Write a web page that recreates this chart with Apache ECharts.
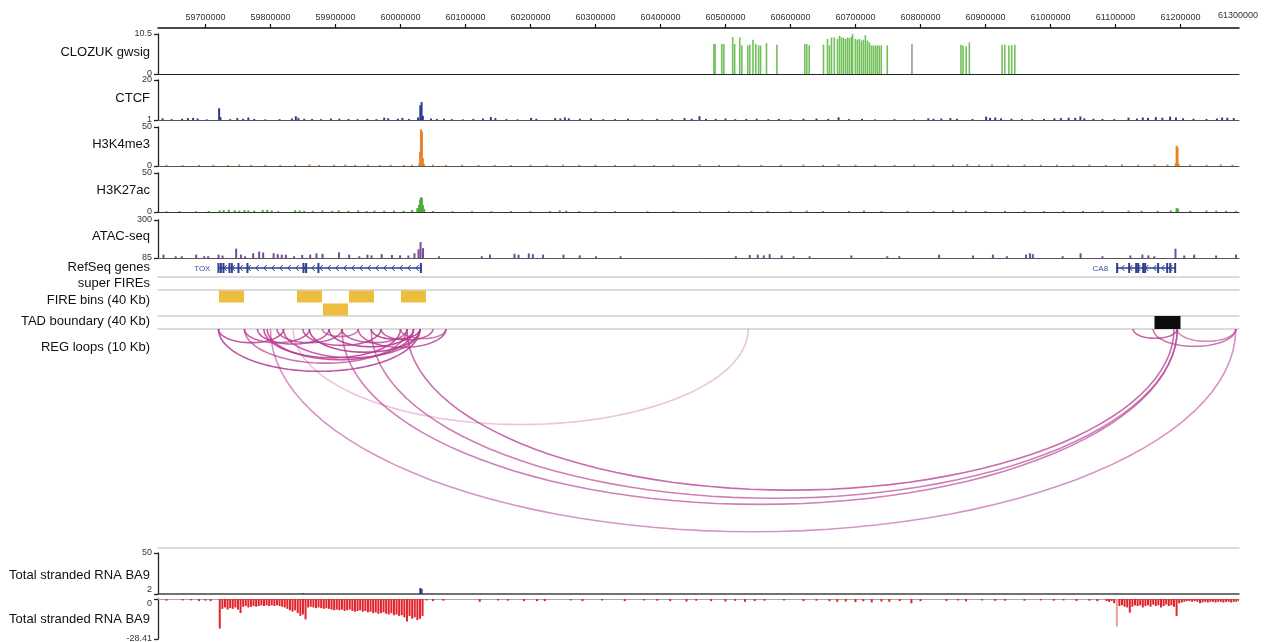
<!DOCTYPE html>
<html><head><meta charset="utf-8">
<script src="https://cdn.jsdelivr.net/npm/echarts@6/dist/echarts.min.js"></script>
<style>html,body{margin:0;padding:0;background:#fff}#c{width:1265px;height:642px}</style>
</head><body><div id="c"></div>
<script>
// ---------------- DATA ----------------
const X_MIN = 59627000, X_MAX = 61290000;
const topTicks = [59700000,59800000,59900000,60000000,60100000,60200000,60300000,60400000,60500000,60600000,60700000,60800000,60900000,61000000,61100000,61200000];
const lastTickLabel = '61300000';
const trackNames = ['CLOZUK gwsig','CTCF','H3K4me3','H3K27ac','ATAC-seq','RefSeq genes','super FIREs','FIRE bins (40 Kb)','TAD boundary (40 Kb)','REG loops (10 Kb)','Total stranded RNA BA9','Total stranded RNA BA9'];

const gwsig = [[60482200,7.9],[60484000,7.9],[60494400,7.9],[60497500,7.9],[60511100,9.7],[60514100,7.9],[60522000,9.6],[60525100,7.5],[60534300,7.5],[60537400,7.7],[60542300,9.0],[60546600,7.9],[60550900,7.5],[60554000,7.5],[60563100,8.1],[60579100,7.7],[60622000,7.9],[60625100,7.9],[60628800,7.5],[60650800,7.7],[60656900,9.2],[60660000,7.5],[60663100,9.6],[60667400,9.6],[60672300,9.2],[60675400,10.0],[60678500,9.6],[60681500,9.5],[60684600,9.2],[60687700,9.6],[60690600,9.4],[60693700,9.8],[60695500,10.5],[60699800,9.2],[60702900,9.0],[60706000,9.2],[60709100,8.8],[60712200,9.0],[60715200,10.2],[60718300,8.8],[60721400,8.3],[60724500,7.5],[60727500,7.5],[60730600,7.5],[60733500,7.5],[60736600,7.5],[60739700,7.5],[60748900,7.5],[60862300,7.7],[60865400,7.5],[60870300,7.3],[60875200,8.3],[60925500,7.7],[60929800,7.7],[60936000,7.5],[60940300,7.6],[60945100,7.7]];
const gwsigGray = [[60786900,7.9]];

const ctcf = [[59634000,1.8],[59648000,1.4],[59664000,1.6],[59673000,1.9],[59681000,2.0],[59688000,1.7],[59702000,1.3],[59721000,6.6],[59723000,2.4],[59738000,1.4],[59749000,1.9],[59758000,1.6],[59766000,2.2],[59775000,1.5],[59792000,1.3],[59814000,1.4],[59833000,1.7],[59839000,2.8],[59843000,2.0],[59852000,1.6],[59864000,1.5],[59878000,1.4],[59893000,1.7],[59906000,1.6],[59920000,1.5],[59934000,1.4],[59949000,1.6],[59963000,1.4],[59975000,2.1],[59981000,1.8],[59996000,1.6],[60003000,2.0],[60013000,1.5],[60027000,2.2],[60030500,8.0],[60032500,9.5],[60034500,3.0],[60047000,1.7],[60056000,1.5],[60067000,1.6],[60079000,1.4],[60096000,1.3],[60112000,1.5],[60127000,1.7],[60139000,2.4],[60146000,1.9],[60163000,1.4],[60180000,1.3],[60201000,2.0],[60209000,1.6],[60238000,1.9],[60246000,1.7],[60253000,2.2],[60259000,1.8],[60276000,1.6],[60293000,1.7],[60312000,1.4],[60330000,1.4],[60350000,1.6],[60372000,1.3],[60395000,1.5],[60418000,1.4],[60437000,1.9],[60448000,1.6],[60460000,2.8],[60470000,1.5],[60485000,1.5],[60500000,1.7],[60515000,1.4],[60532000,1.5],[60548000,1.6],[60566000,1.4],[60582000,1.5],[60600000,1.3],[60620000,1.6],[60640000,1.7],[60658000,1.5],[60674000,2.3],[60690000,1.4],[60710000,1.5],[60730000,1.3],[60760000,1.4],[60790000,1.3],[60812000,1.8],[60820000,1.6],[60832000,1.7],[60846000,1.9],[60856000,1.6],[60880000,1.5],[60901000,2.6],[60907000,2.0],[60915000,2.2],[60924000,1.8],[60940000,1.6],[60956000,1.5],[60972000,1.4],[60990000,1.5],[61006000,1.8],[61016000,1.9],[61028000,2.1],[61038000,2.0],[61046000,2.7],[61052000,1.8],[61066000,1.6],[61080000,1.5],[61098000,1.4],[61120000,2.1],[61133000,1.7],[61142000,2.2],[61150000,2.0],[61162000,2.4],[61172000,2.1],[61184000,2.6],[61193000,2.2],[61204000,1.8],[61220000,1.6],[61240000,1.5],[61256000,1.7],[61264000,2.2],[61272000,2.1],[61282000,1.9]];

const h3k4me3 = [[59640000,1.6],[59665000,1.2],[59690000,1.4],[59712000,1.6],[59735000,1.2],[59752000,2.0],[59770000,1.4],[59792000,1.6],[59815000,1.2],[59838000,1.5],[59860000,2.0],[59875000,1.4],[59898000,1.6],[59915000,1.8],[59930000,1.5],[59950000,1.7],[59968000,1.4],[59985000,1.6],[60005000,1.5],[60018000,1.7],[60029000,3],[60030300,18],[60031500,47],[60033000,44],[60034500,10],[60036000,2.5],[60050000,1.7],[60070000,1.4],[60095000,1.6],[60120000,1.4],[60145000,1.5],[60170000,1.3],[60200000,1.6],[60225000,1.4],[60250000,1.7],[60275000,1.5],[60300000,1.6],[60330000,1.4],[60360000,1.5],[60390000,1.3],[60420000,1.6],[60460000,2.2],[60490000,1.4],[60520000,1.5],[60555000,1.4],[60585000,1.6],[60620000,1.8],[60650000,1.5],[60674000,2.4],[60700000,1.6],[60730000,1.4],[60760000,1.5],[60790000,1.7],[60820000,1.6],[60850000,1.9],[60872000,2.6],[60890000,1.7],[60910000,2.0],[60935000,1.6],[60960000,1.8],[60985000,1.5],[61010000,1.7],[61035000,1.6],[61060000,1.8],[61085000,1.5],[61110000,1.9],[61135000,1.7],[61160000,2.0],[61180000,1.8],[61192500,3],[61194000,26],[61195500,24],[61197000,3],[61215000,1.7],[61240000,1.6],[61262000,1.9],[61280000,1.7]];

const h3k27ac = [[59640000,1.0],[59660000,1.2],[59685000,1.0],[59705000,1.3],[59722000,2.0],[59728000,2.4],[59736000,2.8],[59745000,2.2],[59752000,1.6],[59760000,2.6],[59766000,2.2],[59775000,1.8],[59788000,2.6],[59795000,2.8],[59802000,2.0],[59812000,1.4],[59838000,2.2],[59845000,2.0],[59852000,1.5],[59865000,1.6],[59880000,2.0],[59895000,1.5],[59905000,2.2],[59920000,1.6],[59935000,2.0],[59948000,1.4],[59960000,1.8],[59975000,1.6],[59990000,1.8],[60005000,1.5],[60018000,2.5],[60026000,5],[60028500,9],[60030300,16],[60031500,19],[60033000,18],[60034500,9],[60036500,4],[60050000,1.2],[60080000,1.0],[60110000,1.1],[60140000,1.0],[60170000,1.2],[60200000,1.1],[60230000,1.3],[60245000,2.2],[60255000,1.8],[60275000,1.2],[60300000,1.0],[60330000,1.1],[60380000,1.0],[60420000,1.2],[60460000,1.0],[60505000,1.2],[60540000,1.4],[60565000,1.3],[60600000,1.2],[60625000,1.8],[60650000,1.2],[60690000,1.4],[60713000,1.8],[60740000,1.2],[60780000,1.4],[60820000,1.2],[60850000,2.2],[60870000,1.5],[60900000,1.3],[60930000,1.4],[60960000,1.5],[60990000,1.2],[61020000,1.4],[61050000,1.3],[61080000,1.6],[61120000,1.8],[61140000,1.5],[61165000,1.4],[61185000,2.0],[61194000,5],[61196000,4.5],[61215000,1.6],[61240000,2.0],[61255000,1.8],[61270000,1.5],[61285000,1.4]];

const atac = [[59635400,104],[59654200,95],[59663500,95],[59685700,104],[59698000,95],[59704200,95],[59720200,104],[59726300,99],[59747200,138],[59754600,104],[59760900,95],[59773400,112],[59782600,121],[59788800,116],[59804900,112],[59811200,107],[59817400,104],[59823700,104],[59836300,95],[59848800,102],[59861100,104],[59870800,111],[59880200,109],[59905400,117],[59921100,104],[59936700,95],[59949200,104],[59955500,100],[59971200,107],[59986900,102],[59999500,100],[60012200,99],[60021500,112],[60027800,134],[60030900,175],[60034700,141],[60059200,95],[60125100,95],[60137700,104],[60175400,109],[60181700,104],[60197400,111],[60203700,107],[60219400,104],[60250800,104],[60275800,100],[60300900,95],[60338600,95],[60516000,95],[60537400,102],[60549700,104],[60558900,100],[60568000,107],[60586500,99],[60604800,95],[60629400,95],[60693700,99],[60748900,95],[60767400,95],[60828600,104],[60880800,99],[60911400,104],[60932900,95],[60962300,104],[60968400,112],[60972800,107],[61018800,95],[61046300,112],[61080000,95],[61122900,99],[61141400,104],[61150600,100],[61159700,95],[61192300,138],[61205700,99],[61221000,104],[61254800,99],[61285400,104]];

const geneNames = ['TOX','CA8'];
const geneStarts = [59720000, 61101000];
const geneEnds = [60032000, 61193000];
const toxExons = [59720000,59723700,59727700,59736900,59740600,59750800,59764600,59850800,59854900,59873800,60031400];
const ca8Exons = [61102600,61121000,61131800,61134900,61142600,61145600,61165600,61179500,61184200,61191800];

const fireBins = [[59720000,59760000,0],[59840000,59880000,0],[59880000,59920000,1],[59920000,59960000,0],[60000000,60040000,0]];
const tadBoundary = [[61160000,61200000]];

const regLoops = [
 [59720000,59820000,0.85],[59720000,60030000,0.85],[59760000,59860000,0.8],[59780000,59890000,0.8],
 [59790000,60000000,0.85],[59795000,60020000,0.85],[59810000,59910000,0.8],[59850000,59970000,0.85],
 [59860000,60030000,0.9],[59880000,59935000,0.7],[59890000,60020000,0.9],[59910000,60010000,0.8],
 [59935000,60070000,0.8],[59955000,60030000,0.9],[59970000,60050000,0.8],[60000000,60070000,0.7],
 [59760000,60010000,0.7],[59820000,60030000,0.8],
 [60010000,61190000,0.75],[59955000,61195000,0.65],[59910000,61195000,0.65],[59800000,61285000,0.55],
 [59835000,60535000,0.3],
 [61127000,61195000,0.8],[61158000,61285000,0.7],[61195000,61285000,0.6]
];

const rnaPlus = [[59850000,3],[60030500,9],[60032500,8]];
const RNA_BIN = 4000;
const rnaToxStart = 59720000;
const rnaMinusTox = [-21,-7,-6,-7.5,-6.5,-7,-6,-7.5,-10,-5.5,-5,-6,-5.5,-5,-5.5,-5,-4.5,-5,-4.5,-5,-4.5,-5,-4.5,-5,-5.5,-6,-7,-8,-9,-8,-10,-12,-11,-14.5,-6,-5.5,-6,-6.5,-6,-6.5,-7,-6.5,-7,-7.5,-8,-7.5,-8,-7.5,-8.5,-8,-7.5,-8.5,-9,-8.5,-8,-9,-8.5,-9.5,-9,-10,-9.5,-10.5,-10,-9.5,-10.5,-11,-10,-11.5,-11,-12,-11.5,-13,-16,-12,-14,-13,-15,-14,-12];
const rnaCa8Start = 61084000;
const rnaMinusCa8 = [-1.5,-2,-1.5,-3,-19.5,-5,-4.5,-5.5,-6,-9.7,-5.5,-4.5,-5,-4.5,-6,-5,-4.5,-5.5,-4,-5,-4.5,-6,-5,-4,-5,-4.5,-5.5,-12,-3,-2.5,-2,-1.5,-1.5,-2,-1.5,-2,-3,-2.5,-2,-2.5,-2,-2,-2.5,-2,-2,-2.5,-2,-2,-2.5,-2,-2,-1.5];
const rnaMinusNoise = [[59640000,-1.2],[59665000,-1.0],[59678000,-1.0],[59690000,-1.5],[59700000,-1.2],[59708000,-1.5],[60040000,-1.0],[60050000,-1.5],[60066000,-1.2],[60122000,-2.0],[60150000,-1.0],[60165000,-1.2],[60190000,-1.5],[60210000,-1.5],[60222000,-1.5],[60262000,-1.0],[60280000,-1.5],[60310000,-1.0],[60345000,-1.5],[60375000,-1.0],[60395000,-1.2],[60415000,-1.5],[60440000,-1.8],[60455000,-1.2],[60478000,-1.5],[60500000,-1.8],[60515000,-1.3],[60530000,-2.0],[60545000,-1.4],[60560000,-1.2],[60590000,-1.0],[60620000,-1.5],[60640000,-1.2],[60660000,-1.6],[60672000,-2.0],[60685000,-1.8],[60700000,-2.2],[60712000,-1.6],[60725000,-2.4],[60740000,-1.8],[60752000,-2.0],[60768000,-1.5],[60786000,-3.0],[60800000,-1.5],[60840000,-1.4],[60858000,-1.0],[60870000,-1.6],[60895000,-1.0],[60915000,-1.3],[60930000,-1.2],[60960000,-1.2],[60985000,-1.0],[61005000,-1.2],[61020000,-1.0],[61040000,-1.4],[61060000,-1.2],[61072000,-1.6]];

// ---------------- LAYOUT / STYLE ----------------
const FONT = '"Liberation Sans", Arial, Helvetica, sans-serif';
const L = 158, R = 26;
const gridDefs = [[34,40],[80,40],[127,39],[173,39],[220,38],[259,18],[277,13],[290,26],[316,13],[329,219],[553,41],[599,40]];
const labelY = [52,98,144,190,236,267,283,300,321,347,575,619];
const grids = gridDefs.map(g => ({left:L, right:R, top:g[0], height:g[1], containLabel:false, outerBoundsMode:'none'}));

const sepColor = '#d0d0d0';
const baseLines = [['#222',1.2],['#555',1],['#555',1],['#333',1],['#555',1],[sepColor,1.5],[sepColor,1.5],[sepColor,1.5],[sepColor,1.5],[sepColor,1.5],['#444',1.5],['#aaa',1]];
const xAxes = baseLines.map((b,i) => ({
  type:'value', gridIndex:i, min:X_MIN, max:X_MAX, position: i===11?'top':'bottom',
  axisLine:{show:true, onZero:false, lineStyle:{color:b[0], width:b[1]}},
  axisTick:{show:false}, axisLabel:{show:false}, splitLine:{show:false}
}));
xAxes.push({
  type:'value', gridIndex:0, min:X_MIN, max:X_MAX, position:'top', offset:6,
  axisLine:{show:true, onZero:false, lineStyle:{color:'#111', width:1.5}},
  axisTick:{show:true, customValues:topTicks, length:4, lineStyle:{color:'#111', width:1.2}},
  axisLabel:{show:true, customValues:topTicks, fontSize:9, fontFamily:FONT, color:'#333', margin:6, formatter: v => String(v)},
  splitLine:{show:false}
});

function bracket(gi, min, max, vMin, vMax) {
  const lab = {show:true, customValues:[min,max], fontSize:9, fontFamily:FONT, color:'#333', margin:6};
  if (vMin) lab.verticalAlignMinLabel = vMin;
  if (vMax) lab.verticalAlignMaxLabel = vMax;
  return {type:'value', gridIndex:gi, min, max,
    axisLine:{show:true, onZero:false, lineStyle:{color:'#222', width:1.3}},
    axisTick:{show:true, customValues:[min,max], length:4, lineStyle:{color:'#222', width:1.3}},
    axisLabel:lab, splitLine:{show:false}};
}
function hiddenY(gi, min, max, inverse) {
  return {type:'value', gridIndex:gi, min, max, inverse:!!inverse, show:false, splitLine:{show:false}};
}
const yAxes = [bracket(0,0,10.5), bracket(1,1,20), bracket(2,0,50), bracket(3,0,50), bracket(4,85,300),
  hiddenY(5,0,1), hiddenY(6,0,1), hiddenY(7,0,2,true), hiddenY(8,0,1), hiddenY(9,0,1,true),
  bracket(10,2,50,'bottom',null), bracket(11,-28.41,0,null,'top')];

function barSeries(gi, data, base, color, w, opacity) {
  return {type:'custom', xAxisIndex:gi, yAxisIndex:gi, data, clip:true, silent:true,
    renderItem(params, api) {
      const x = api.value(0), v = api.value(1);
      const a = api.coord([x, base]), b = api.coord([x, v]);
      return {type:'rect', shape:{x:a[0]-w/2, y:Math.min(a[1],b[1]), width:w, height:Math.max(0.6, Math.abs(b[1]-a[1]))},
        style:{fill:color, opacity: opacity==null?1:opacity}};
    }};
}
function binSeries(gi, start, values, base, color) {
  const data = values.map((v,i) => [start + i*RNA_BIN + RNA_BIN/2, v]);
  return {type:'custom', xAxisIndex:gi, yAxisIndex:gi, data, clip:true, silent:true,
    renderItem(params, api) {
      const x = api.value(0), v = api.value(1);
      const w = api.size([RNA_BIN, 0])[0];
      const a = api.coord([x, base]), b = api.coord([x, v]);
      return {type:'rect', shape:{x:a[0]-w/2+0.3, y:Math.min(a[1],b[1]), width:Math.max(1, w-0.6), height:Math.abs(b[1]-a[1])},
        style:{fill: color(params.dataIndex, v)}};
    }};
}

const GENE_COLOR = '#2b3f8e';
const geneExons = [toxExons, ca8Exons];
const geneSeries = {type:'custom', xAxisIndex:5, yAxisIndex:5, clip:true, silent:true,
  data: geneStarts.map((s,i) => [s, geneEnds[i], i]),
  renderItem(params, api) {
    const i = api.value(2);
    const s = api.coord([api.value(0), 0.5]), e = api.coord([api.value(1), 0.5]);
    const y = s[1], ch = [];
    ch.push({type:'line', shape:{x1:s[0], y1:y, x2:e[0], y2:y}, style:{stroke:GENE_COLOR, lineWidth:1.5}});
    for (let x = s[0] + 6; x < e[0] - 3; x += 8) {
      ch.push({type:'polyline', shape:{points:[[x+2.2,y-3],[x-0.5,y],[x+2.2,y+3]]}, style:{stroke:GENE_COLOR, lineWidth:1, fill:null}});
    }
    geneExons[i].forEach(ex => {
      const p = api.coord([ex, 0.5]);
      ch.push({type:'rect', shape:{x:p[0]-1, y:y-5, width:2, height:10}, style:{fill:GENE_COLOR}});
    });
    ch.push({type:'text', x:s[0]-8, y:y+1, style:{text:geneNames[i], textAlign:'right', textVerticalAlign:'middle', font:'8px '+FONT, fill:'#3b4fa0'}});
    return {type:'group', children:ch};
  }};

const fireSeries = {type:'custom', xAxisIndex:7, yAxisIndex:7, data:fireBins, clip:true, silent:true,
  renderItem(params, api) {
    const a = api.coord([api.value(0), api.value(2)]), b = api.coord([api.value(1), api.value(2)+1]);
    return {type:'rect', shape:{x:a[0]+0.5, y:Math.min(a[1],b[1])+0.5, width:b[0]-a[0]-1, height:Math.abs(b[1]-a[1])-1}, style:{fill:'#ecbd3e'}};
  }};
const tadSeries = {type:'custom', xAxisIndex:8, yAxisIndex:8, data:tadBoundary, clip:true, silent:true,
  renderItem(params, api) {
    const a = api.coord([api.value(0), 1]), b = api.coord([api.value(1), 0]);
    return {type:'rect', shape:{x:a[0], y:a[1], width:b[0]-a[0], height:b[1]-a[1]}, style:{fill:'#0d0d0d'}};
  }};
const loopSeries = {type:'custom', xAxisIndex:9, yAxisIndex:9, data:regLoops, clip:true, silent:true,
  renderItem(params, api) {
    const a = api.coord([api.value(0), 0]), b = api.coord([api.value(1), 0]);
    const cx = (a[0]+b[0])/2, r = (b[0]-a[0])/2, depth = (b[0]-a[0])*0.21;
    const pts = [];
    for (let k = 0; k <= 60; k++) {
      const t = Math.PI * k / 60;
      pts.push([cx - r*Math.cos(t), a[1] + depth*Math.sin(t)]);
    }
    const s = api.value(2);
    return {type:'polyline', shape:{points:pts, smooth:false}, style:{stroke:'rgb(182,58,145)', opacity:s, lineWidth:1.6, fill:null}};
  }};

const series = [
  barSeries(0, gwsig, 0, '#62b948', 1.6, 0.9),
  barSeries(0, gwsigGray, 0, '#9a9a9a', 1.6),
  barSeries(1, ctcf, 1, '#2f3f8f', 2),
  barSeries(2, h3k4me3, 0, '#e8822a', 2),
  barSeries(3, h3k27ac, 0, '#4cae3a', 2),
  barSeries(4, atac, 85, '#7b4b9b', 2),
  geneSeries, fireSeries, tadSeries, loopSeries,
  barSeries(10, rnaPlus, 2, '#2c3e8c', 2),
  barSeries(11, rnaMinusNoise, 0, '#e2232b', 2),
  binSeries(11, rnaToxStart, rnaMinusTox, 0, () => '#e2232b'),
  binSeries(11, rnaCa8Start, rnaMinusCa8, 0, (i, v) => v < -15 ? '#ef9aa0' : '#e2232b')
];

const graphics = trackNames.map((t,i) => ({type:'text', x:150, y:labelY[i], silent:true,
  style:{text:t, textAlign:'right', textVerticalAlign:'middle', font:'13px '+FONT, fill:'#111'}}));
graphics.push({type:'text', x:1238, y:16, silent:true, style:{text:lastTickLabel, textAlign:'center', textVerticalAlign:'middle', font:'9px '+FONT, fill:'#333'}});

const chart = echarts.init(document.getElementById('c'));
chart.setOption({animation:false, backgroundColor:'#fff', grid:grids, xAxis:xAxes, yAxis:yAxes, series, graphic:graphics});
</script>
</body></html>
